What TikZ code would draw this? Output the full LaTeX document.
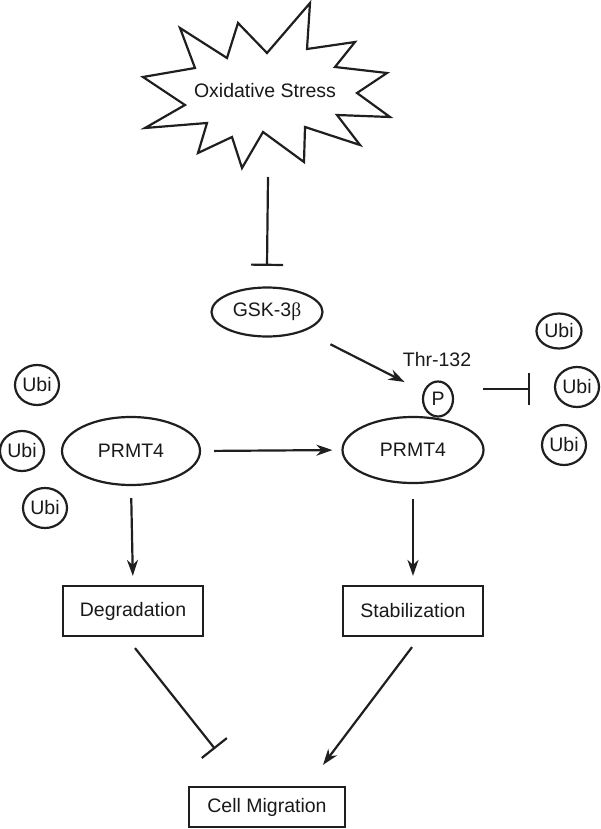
\documentclass[tikz,border=0pt]{standalone}
\usepackage{fontspec}
\setmainfont{Liberation Sans}
\newfontfamily\grk{Liberation Serif}
\usetikzlibrary{shapes.geometric,arrows.meta,calc}
\begin{document}
\begin{tikzpicture}[x=1pt,y=-1pt,
  every node/.style={font=\fontsize{19.5}{22}\selectfont, text=black!90, inner sep=0pt},
  lw/.style={line width=2.2pt, draw=black!88},
  oval/.style={ellipse, lw},
  ubi/.style={ellipse, lw, minimum width=44pt, minimum height=40pt},
  rbox/.style={rectangle, lw, minimum width=140pt, minimum height=50pt},
  act/.style={lw, -{Stealth[length=16pt,width=11pt,inset=5pt]}},
  inh/.style={lw, -{Bar[width=32pt]}}]
\useasboundingbox (0,0) rectangle (600,829);
% starburst
\draw[lw, line join=miter] (310,3) -- (307,49) -- (355,42) -- (335,67) -- (387,73) -- (357,93)
  -- (390,117) -- (337,115) -- (360,145) -- (305,127) -- (304,162) -- (263,132) -- (242,168)
  -- (232,137) -- (198,153) -- (207,123) -- (145,128) -- (185,105) -- (143,77) -- (195,68)
  -- (180,28) -- (227,58) -- (238,23) -- (267,53) -- cycle;
\node (stress) at (265,91) {Oxidative Stress};
\coordinate (stressbot) at (268,177);
% nodes
\node[oval, minimum width=111pt, minimum height=49pt] (gsk) at (267,312) {GSK-3{\grk β}};
\node (thr) at (437,360) {Thr-132};
\node[oval, minimum width=30pt, minimum height=35pt] (p) at (438,399) {P};
\node[oval, fill=white, minimum width=141pt, minimum height=66pt] (prR) at (413,450) {PRMT4};
\node[oval, minimum width=138pt, minimum height=68pt] (prL) at (131,451) {PRMT4};
\node[ubi] (ubiL1) at (37,385) {Ubi};
\node[ubi] (ubiL2) at (22,451) {Ubi};
\node[ubi] (ubiL3) at (45,508) {Ubi};
\node[ubi, minimum width=45pt, minimum height=35pt] (ubiR1) at (559,331) {Ubi};
\node[ubi] (ubiR2) at (577,387) {Ubi};
\node[ubi] (ubiR3) at (564,445) {Ubi};
\node[rbox] (deg) at (133,611) {Degradation};
\node[rbox] (stab) at (413,611) {Stabilization};
\node[rbox, minimum width=156pt, minimum height=40pt] (cell) at (267,807) {Cell Migration};
% connectors
\draw[inh] (stressbot) -- ([yshift=20.5pt]gsk.north);
\draw[act, shorten <=29pt, shorten >=21pt] (gsk) -- (p);
\draw[inh, shorten <=29pt] ([yshift=10pt]p.east) -- ([yshift=10pt]p.east -| {$(ubiR2.west)+(-24,0)$});
\draw[act, shorten <=13pt, shorten >=9pt] (prL.east) -- (prR.west);
\draw[act, shorten <=12pt, shorten >=9pt] (prL.south) -- (deg.north);
\draw[act, shorten <=15pt, shorten >=9pt] (prR.south) -- (stab.north);
\draw[inh] ([xshift=2pt,yshift=-11pt]deg.south) -- ([xshift=-52pt,yshift=37pt]cell.north);
\draw[act] ([xshift=-1pt,yshift=-10pt]stab.south) -- ([xshift=56pt,yshift=21pt]cell.north);
\end{tikzpicture}
\end{document}
